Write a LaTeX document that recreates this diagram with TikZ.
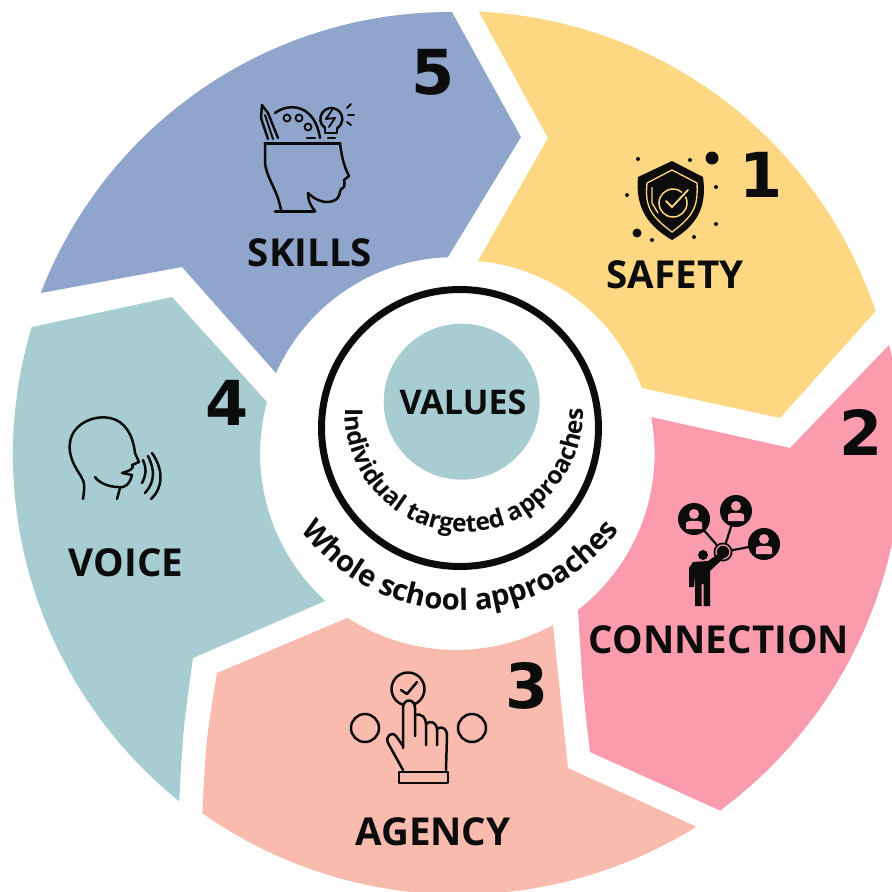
\documentclass[tikz,border=0pt]{standalone}
\usepackage{fontspec}
\setmainfont{Open Sans}
\newfontfamily\digitfont{DejaVu Sans}
\usetikzlibrary{decorations.text}
\definecolor{cyellow}{HTML}{FDD782}
\definecolor{cpink}{HTML}{FA9CAE}
\definecolor{cagency}{HTML}{F8BBAE}
\definecolor{cvoice}{HTML}{A7CDD2}
\definecolor{cblue}{HTML}{8FA5CB}
\definecolor{ink}{HTML}{0C0C0C}
\tikzset{
  arcseg/.style n args={6}{insert path={-- plot[domain=#3:#4,samples=40]
    ({#1+(#5+(#6-#5)*(\x-(#3))/((#4)-(#3)))*cos(\x)},{#2+(#5+(#6-#5)*(\x-(#3))/((#4)-(#3)))*sin(\x)})}},
  lab/.style={font=\bfseries\fontsize{38.5}{38.5}\selectfont,text=ink,inner sep=0pt},
  num/.style={font=\digitfont\bfseries\fontsize{62}{62}\selectfont,text=ink,inner sep=0pt},
  ic/.style={draw=ink,line width=2.5pt,line cap=round,line join=round},
  icthin/.style={draw=ink,line width=1.9pt,line cap=round,line join=round},
}
\begin{document}
\begin{tikzpicture}[x=1pt,y=-1pt]
\useasboundingbox (0,0) rectangle (892,892);
\clip (0,0) rectangle (892,892);
% segments
\fill[cyellow] (479,12) [arcseg={455}{447}{-86.8}{-17.9}{436}{442}]
  -- (780,418) -- (642,388)
  [arcseg={458}{450}{-18.6}{-84}{194}{190}]
  -- (548,138) -- cycle;
\fill[cpink] (889,345) [arcseg={455}{447}{-13.2}{53.9}{446}{450}]
  -- (590,752) .. controls (583,693) .. (578,610)
  [arcseg={458}{450}{53.1}{-9.7}{200}{196}]
  -- (790,448) -- cycle;
\fill[cagency] (347,618) [arcseg={458}{450}{123.5}{61.5}{201}{199}]
  -- (568,768) -- (697,827)
  [arcseg={455}{447}{57.5}{124.6}{450}{445}]
  .. controls (206,740) .. (217,673) -- cycle;
\fill[cvoice] (32,327) [arcseg={455}{447}{195.8}{127.9}{440}{449}]
  .. controls (183,730) .. (193,658) -- (325,601)
  [arcseg={458}{450}{131.4}{194.1}{201}{197}]
  -- (172,297) -- cycle;
\fill[cblue] (41,293) [arcseg={455}{447}{200.4}{269.6}{442}{435}]
  -- (521,137) -- (448,257)
  [arcseg={458}{450}{267}{202.9}{193}{197.6}]
  -- (182,267) -- cycle;
% hub
\draw[ink,line width=7pt] (460,428) circle[radius=138.5pt];
\fill[cvoice] (461.7,401.7) circle[radius=78pt];
\node[font=\bfseries\fontsize{34}{34}\selectfont,text=ink,inner sep=0pt] (values) at (463,402) {VALUES};
\path[decorate,decoration={text along path,text align={center},
  text={|\bfseries\fontsize{24.5}{25}\selectfont\color{ink}|Individual targeted approaches}}]
  (345,413) arc[start angle=180,end angle=360,radius=119pt];
\path[decorate,decoration={text along path,text align={center},
  text={|\bfseries\fontsize{29.2}{30}\selectfont\color{ink}|Whole school approaches}}]
  (303,532) arc[start angle=217,end angle=323,radius=197pt];
% labels
\node[lab] (safety) at (675,275) {SAFETY};
\node[lab] (skills) at (310,253) {SKILLS};
\node[lab] (connection) at (719,640) {CONNECTION};
\node[lab] (agency) at (433,832) {AGENCY};
\node[lab] (voice) at (126,563) {VOICE};
\node[num] (n1) at (761,175) {1};
\node[num] (n2) at (861,432) {2};
\node[num] (n3) at (527,686) {3};
\node[num] (n4) at (227,403) {4};
\node[num] (n5) at (433,72) {5};
% skills icon
\draw[ic,line width=3pt] (265,143) -- (340,143);
\draw[ic] (265,143) -- (265,162) .. controls (266,178) and (277,188) .. (281,210);
\draw[ic,line width=3pt] (275,211) -- (315,211);
\draw[ic] (315,211) .. controls (310,205) and (308,200) .. (308,193) .. controls (315,200) and (325,204) .. (333,201)
  .. controls (341,198) and (339,192) .. (341,189) .. controls (345,188) and (345,184) .. (344,180) -- (349,176)
  .. controls (345,168) and (342,160) .. (340,143);
\draw[ic] (261,118) -- (262,105) -- (268,113) -- (278,138);
\draw[ic] (261,118) -- (268,139);
\draw[icthin] (265,115) -- (273,139);
\draw[ic] (275,113) .. controls (290,102) and (315,105) .. (320,138);
\draw[icthin] (287,118) circle[radius=3.5pt] (299,118) circle[radius=3.5pt] (308,127) circle[radius=3.5pt];
\draw[ic] (307,138) -- (315,138);
\draw[ic] (325,128) arc[start angle=235,end angle=-55,radius=11pt];
\draw[ic] (325,128) -- (325,133) -- (337,133) -- (337,128);
\draw[ic] (328,138) -- (335,138);
\draw[icthin] (332,110) -- (326,119) -- (335,118) -- (329,127);
\draw[icthin] (347,108) -- (351,104) (348,115) -- (354,115) (347,122) -- (351,125);
% safety icon
\fill[ink] (672,161) -- (703,177) .. controls (706,200) and (703,222) .. (672,240)
  .. controls (641,222) and (636,200) .. (638,177) -- cycle;
\draw[cyellow,line width=1.3pt] (672,170) -- (697,183) .. controls (698,205) and (695,215) .. (672,232)
  .. controls (649,215) and (645,205) .. (647,183) -- cycle;
\draw[cyellow,line width=1.5pt] (673,203) circle[radius=14pt];
\draw[cyellow,line width=1.3pt] (652,187) -- (652,203) -- (658,213);
\draw[ink,line width=5pt] (666,201) -- (672,207) -- (688,190);
\draw[cyellow,line width=1.8pt,line cap=round] (666,201) -- (672,207) -- (688,190);
\fill[ink] (712,158) circle[radius=6.5pt] (637,233) circle[radius=4.5pt]
  (638,159) circle[radius=2pt] (690,160) circle[radius=2pt] (716,187) circle[radius=2pt]
  (627,195) circle[radius=2pt] (716,224) circle[radius=2pt] (652,240) circle[radius=2pt] (694,237) circle[radius=2pt];
% connection icon
\draw[ink,line width=2.2pt] (723,552) -- (694,519) (723,552) -- (736,511) (723,552) -- (764,544);
\foreach \x/\y in {694/519,736/511,764/544}{
  \fill[ink] (\x,\y) circle[radius=16pt];
  \fill[cpink] (\x,\y-5) circle[radius=5pt];
  \fill[cpink] (\x-8,\y+10) -- (\x-8,\y+4) .. controls (\x-8,\y+1) and (\x+8,\y+1) .. (\x+8,\y+4) -- (\x+8,\y+10) -- cycle;
}
\fill[ink] (723,552) circle[radius=9.5pt];
\draw[cpink,line width=1.2pt] (723,552) circle[radius=7pt];
\fill[ink] (703,555) circle[radius=5pt];
\fill[ink] (693,562) -- (708,561) -- (721,552) -- (725,557) -- (710,571) -- (710,606) -- (703.5,606) -- (703.5,584)
  -- (701.5,584) -- (701.5,606) -- (695,606) -- (695,575) -- (694,587) -- (689,587) -- (689,568) -- cycle;
% agency icon
\draw[ic] (408,689) circle[radius=16.5pt];
\draw[ic] (401,690) -- (407,694) -- (417,682);
\draw[ic] (365,728) circle[radius=14pt];
\draw[ic] (472,728) circle[radius=14pt];
\fill[cagency] (403,748) -- (403,708) .. controls (403,698) and (415,698) .. (415,708) -- (415,748) -- cycle;
\draw[ic] (403,748) -- (403,708) .. controls (403,698) and (415,698) .. (415,708) -- (415,736);
\draw[ic] (415,715) .. controls (422,713) and (426,718) .. (426,724) -- (426,745);
\draw[ic] (426,724) .. controls (430,720) and (437,722) .. (437,730) -- (437,745);
\draw[ic] (437,729) .. controls (443,725) and (447,730) .. (447,735) -- (446,770);
\draw[ic] (403,746) -- (396,736) .. controls (392,731) and (385,736) .. (388,743) -- (403,770);
\draw[ic] (399,772) rectangle (448,783);
% voice icon
\draw[ic] (83,499) .. controls (86,480) and (83,480) .. (77,470) .. controls (70,458) and (68,448) .. (71,438)
  .. controls (76,422) and (96,415) .. (110,418) .. controls (125,421) and (133,435) .. (135,453)
  -- (139,462) -- (132,465) .. controls (134,468) and (132,470) .. (122,473) -- (132,475)
  .. controls (130,484) and (124,489) .. (118,487) .. controls (108,487) and (98,482) .. (95,477);
\draw[ic] (120,488) -- (117,499);
\draw[ic] (143,460) .. controls (147,470) and (146,475) .. (142,483);
\draw[ic] (148,456) .. controls (155,470) and (155,482) .. (145,493);
\draw[ic] (152,453) .. controls (164,470) and (163,488) .. (151,499);
\end{tikzpicture}
\end{document}
